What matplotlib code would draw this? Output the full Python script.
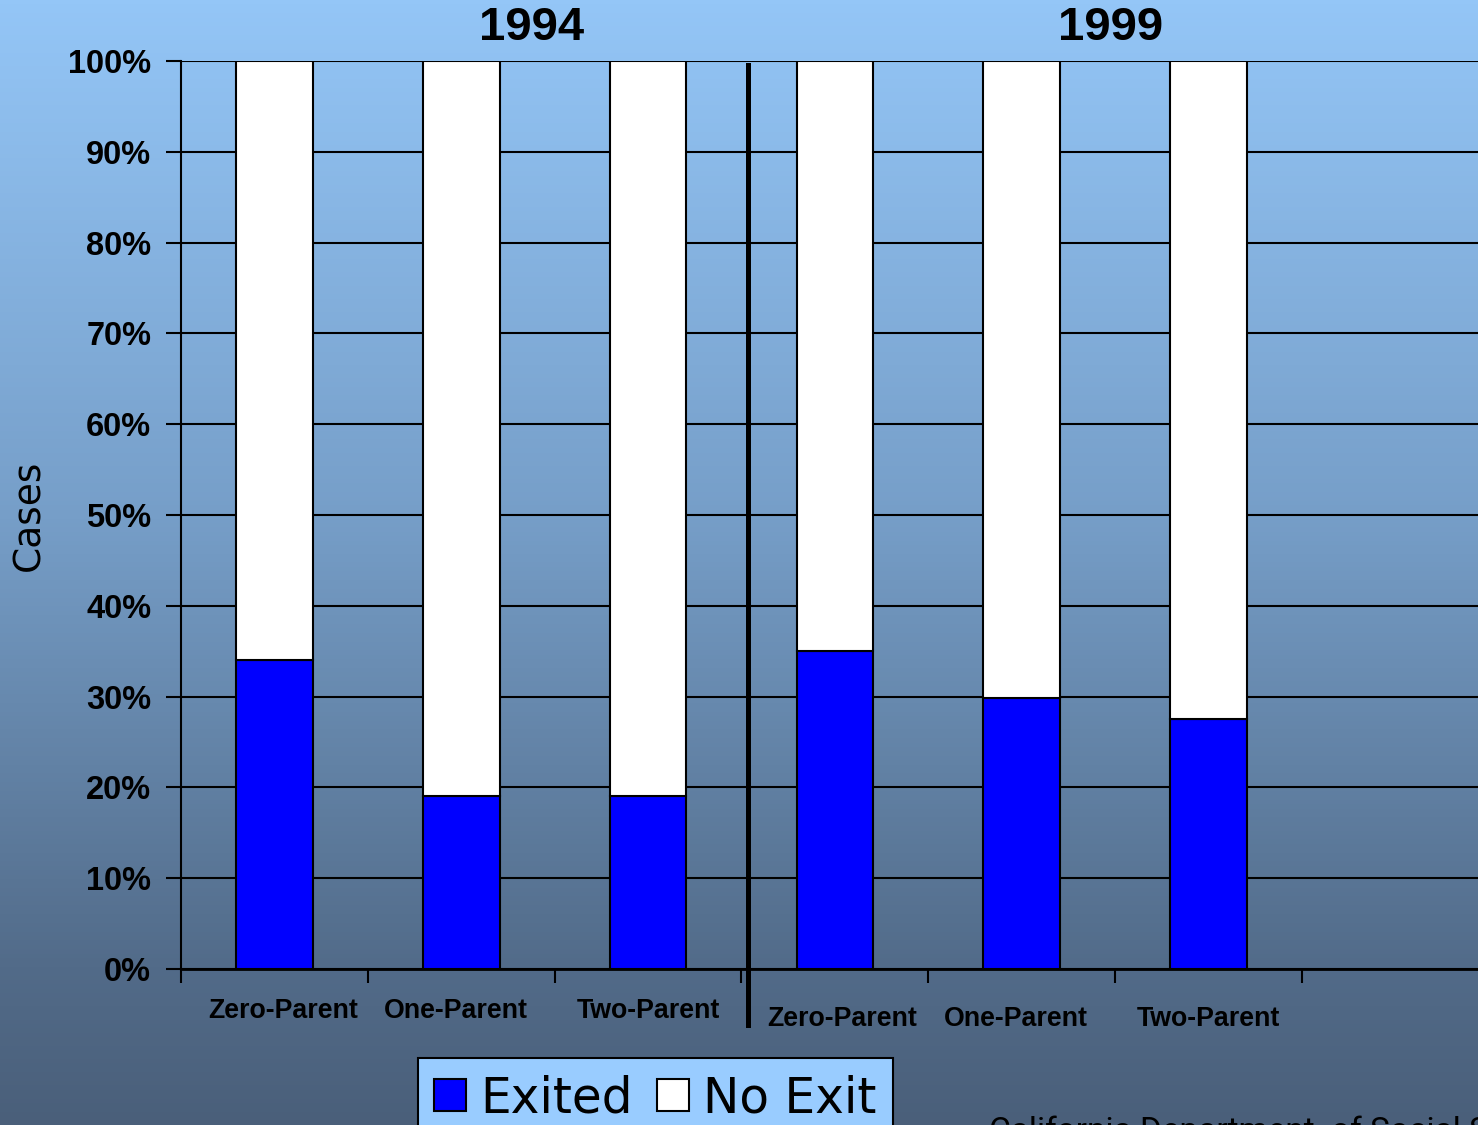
import numpy as np
import matplotlib
matplotlib.use("Agg")
import matplotlib.pyplot as plt
from matplotlib.colors import LinearSegmentedColormap
from matplotlib.patches import Patch
from matplotlib.lines import Line2D
import matplotlib.transforms as mtransforms

# data
years = ["1994", "1999"]
categories = ["Zero-Parent", "One-Parent", "Two-Parent",
              "Zero-Parent", "One-Parent", "Two-Parent"]
exited = [34.0, 19.0, 19.0, 35.0, 29.8, 27.5]
no_exit = [66.0, 81.0, 81.0, 65.0, 70.2, 72.5]
yticks = [0, 10, 20, 30, 40, 50, 60, 70, 80, 90, 100]

W, H = 1478, 1125
fig = plt.figure(figsize=(W / 100, H / 100), dpi=100)

# gradient background
bg = fig.add_axes([0, 0, 1, 1], zorder=-10)
cmap = LinearSegmentedColormap.from_list("bg", [
    (0.0, (148/255, 198/255, 247/255)),
    (0.46, (118/255, 158/255, 200/255)),
    (0.86, (82/255, 107/255, 137/255)),
    (1.0, (74/255, 95/255, 122/255)),
])
grad = np.linspace(0, 1, 256).reshape(-1, 1)
bg.imshow(grad, aspect="auto", cmap=cmap, extent=[0, 1, 0, 1], origin="upper")
bg.axis("off")

# main axes (extends to right edge)
left, right = 181 / W, 1.0
bottom, top = 1 - 969 / H, 1 - 61 / H
ax = fig.add_axes([left, bottom, right - left, top - bottom])
ax.set_facecolor("none")

x = np.arange(len(categories))
bw = 0.41
ax.bar(x, exited, bw, color="#0000FF", edgecolor="black", linewidth=1.5, zorder=3)
ax.bar(x, no_exit, bw, bottom=exited, color="white", edgecolor="black",
       linewidth=1.5, zorder=3)

ax.set_xlim(-0.5, 6.443)
ax.set_ylim(0, 100)
ax.set_yticks(yticks)
ax.set_yticklabels([f"{v}%" for v in yticks], fontsize=23.5,
                   fontweight="bold", family="Liberation Sans")
ax.yaxis.grid(True, color="black", linewidth=1.5, zorder=1)
ax.set_axisbelow(True)
ax.tick_params(axis="y", length=11, width=1.5, pad=10.5, colors="black")

ax.set_xticks(x)
ax.set_xticklabels(categories, fontsize=19.3, fontweight="bold",
                   family="Liberation Sans")
ax.set_xticks(np.arange(-0.5, 6.0, 1.0), minor=True)
ax.tick_params(axis="x", which="major", length=0, pad=21)
ax.tick_params(axis="x", which="minor", length=10, width=1.5)
# labels are not exactly centred; second group sits a bit lower
shift = [0.09, -0.05, 0.0, 0.07, -0.06, 0.0]
for i, lab in enumerate(ax.get_xticklabels()):
    dy = -0.08 if i >= 3 else 0
    lab.set_transform(lab.get_transform() +
                      mtransforms.ScaledTranslation(shift[i], dy, fig.dpi_scale_trans))

for s in ["top", "right"]:
    ax.spines[s].set_visible(False)
ax.spines["left"].set_linewidth(1.5)
ax.spines["bottom"].set_linewidth(2)

# year titles
tr = mtransforms.blended_transform_factory(ax.transData, fig.transFigure)
ax.text(1.374, 1 - 28 / H, years[0], transform=tr, ha="center", va="center",
        fontsize=34, fontweight="bold", family="Liberation Sans")
ax.text(4.475, 1 - 28 / H, years[1], transform=tr, ha="center", va="center",
        fontsize=34, fontweight="bold", family="Liberation Sans")

# divider
fig.add_artist(Line2D([748 / W, 748 / W], [1 - 65 / H, 1 - 1025 / H],
                      color="black", linewidth=3.6, transform=fig.transFigure))

fig.text(29 / W, 1 - 515 / H, "Cases", rotation=90, ha="center", va="center",
         fontsize=27, family="DejaVu Sans")

handles = [Patch(facecolor="#0000FF", edgecolor="black", linewidth=1.5),
           Patch(facecolor="white", edgecolor="black", linewidth=1.5)]
leg = fig.legend(handles, ["Exited", "No Exit"], ncol=2, loc="upper left",
                 bbox_to_anchor=(418 / W, 1 - 1058 / H), borderaxespad=0,
                 prop={"family": "DejaVu Sans", "size": 35},
                 handlelength=0.65, handleheight=0.65, handletextpad=0.3,
                 columnspacing=0.5, borderpad=0.33, fancybox=False,
                 framealpha=1, facecolor="#99CCFF", edgecolor="black")
leg.get_frame().set_linewidth(1.5)

fig.text(989 / W, 1 - 1116 / H, "California Department  of Social Services",
         ha="left", va="top", fontsize=24, family="Roboto", color="black")

fig.savefig("out.png", dpi=100)
